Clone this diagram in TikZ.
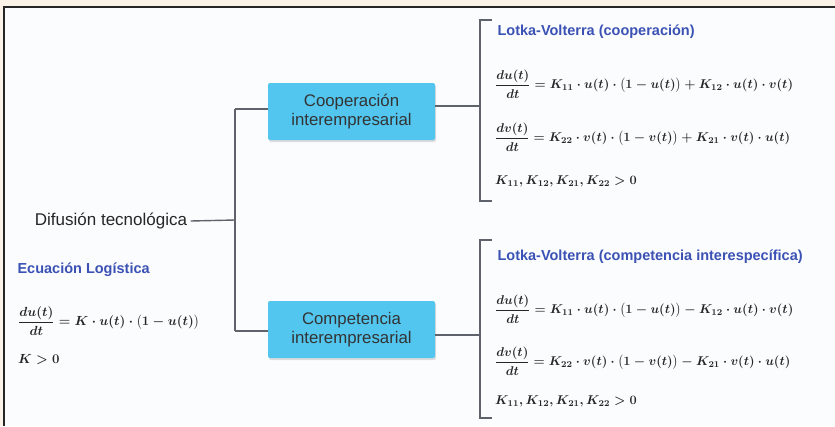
\RequirePackage{fix-cm}
\documentclass[tikz,border=0pt]{standalone}
\usepackage{amsmath}
\usepackage{fontspec}
\setmainfont{Liberation Sans}
\usetikzlibrary{shadows}
\definecolor{cream}{HTML}{FBF2E8}
\definecolor{paper}{HTML}{FBFCFE}
\definecolor{boxblue}{HTML}{52C6EF}
\definecolor{titleblue}{HTML}{3B52B4}
\definecolor{linegrey}{HTML}{5E626A}
\newcommand{\myeqA}{{\boldmath$\dfrac{du(t)}{dt}=K_{11}\cdot u(t)\cdot\bigl(1-u(t)\bigr)+K_{12}\cdot u(t)\cdot v(t)$}}
\newcommand{\myeqB}{{\boldmath$\dfrac{dv(t)}{dt}=K_{22}\cdot v(t)\cdot\bigl(1-v(t)\bigr)+K_{21}\cdot v(t)\cdot u(t)$}}
\newcommand{\myeqC}{{\boldmath$\dfrac{du(t)}{dt}=K_{11}\cdot u(t)\cdot\bigl(1-u(t)\bigr)-K_{12}\cdot u(t)\cdot v(t)$}}
\newcommand{\myeqD}{{\boldmath$\dfrac{dv(t)}{dt}=K_{22}\cdot v(t)\cdot\bigl(1-v(t)\bigr)-K_{21}\cdot v(t)\cdot u(t)$}}
\newcommand{\myeqK}{{\boldmath$K_{11},K_{12},K_{21},K_{22}>0$}}
\newcommand{\myeqL}{{\boldmath$\dfrac{du(t)}{dt}=K\cdot u(t)\cdot\bigl(1-u(t)\bigr)$}}
\newcommand{\myeqP}{{\boldmath$K>0$}}
\tikzset{
  conn/.style={draw=linegrey, line width=1.4pt},
  bluebox/.style={rectangle, rounded corners=2pt, fill=boxblue, minimum width=167pt, minimum height=57pt, align=center, font=\fontsize{16.8}{19}\selectfont, text=black!80, drop shadow={opacity=0.25, shadow xshift=1pt, shadow yshift=-2pt}},
  lbl/.style={font=\fontsize{17}{19}\selectfont, text=black!85},
  ttl/.style={font=\bfseries\fontsize{14.5}{16}\selectfont, text=titleblue, anchor=west},
  eqn/.style={anchor=west, text=black!85, font=\fontsize{12.75}{15}\selectfont, inner sep=0pt},
  eqnl/.style={eqn, font=\fontsize{13.2}{15}\selectfont}
}
\begin{document}
\begin{tikzpicture}[x=1pt, y=-1pt]
\useasboundingbox (0,0) rectangle (835,426);
\fill[cream] (0,0) rectangle (835,426);
\fill[paper] (4,7) rectangle (835,426);
\draw[black!85, line width=1.2pt] (4,426) -- (4,7) -- (835,7);

% nodes
\node[lbl] (diff) at (111,221) {Difusión tecnológica};
\node[bluebox] (coop) at (351.5,111.5) {Cooperación\\interempresarial};
\node[bluebox] (comp) at (351.5,329.5) {Competencia\\interempresarial};

\coordinate (jm) at (235,220);
\coordinate (jt) at (235,109);
\coordinate (jb) at (235,331);
\coordinate (bt) at (480,106);
\coordinate (bb) at (480,335);

% connectors
\draw[conn] (diff.east) -- (jm);
\draw[conn] (jt) -- (jb);
\draw[conn] (jt) -- (jt -| coop.west);
\draw[conn] (jb) -- (jb -| comp.west);
\draw[conn] (coop.east |- bt) -- (bt);
\draw[conn] (comp.east |- bb) -- (bb);

% brackets
\draw[conn] (492,20) -- (480,20) -- (480,201) -- (492,201);
\draw[conn] (492,240) -- (480,240) -- (480,418) -- (492,418);

% upper block
\node[ttl] (t1) at (494,32) {Lotka-Volterra (cooperación)};
\node[eqn] (e1) at (495,84) {\myeqA};
\node[eqn] (e2) at (495,137) {\myeqB};
\node[eqn] (e3) at (495,181) {\myeqK};

% lower block
\node[ttl] (t2) at (494,257) {Lotka-Volterra (competencia interespecífica)};
\node[eqn] (e4) at (495,309) {\myeqC};
\node[eqn] (e5) at (495,361) {\myeqD};
\node[eqn] (e6) at (495,401) {\myeqK};

% left block
\node[ttl] (t3) at (14,270) {Ecuación Logística};
\node[eqnl] (e7) at (18,321) {\myeqL};
\node[eqnl] (e8) at (18,360) {\myeqP};
\end{tikzpicture}
\end{document}
